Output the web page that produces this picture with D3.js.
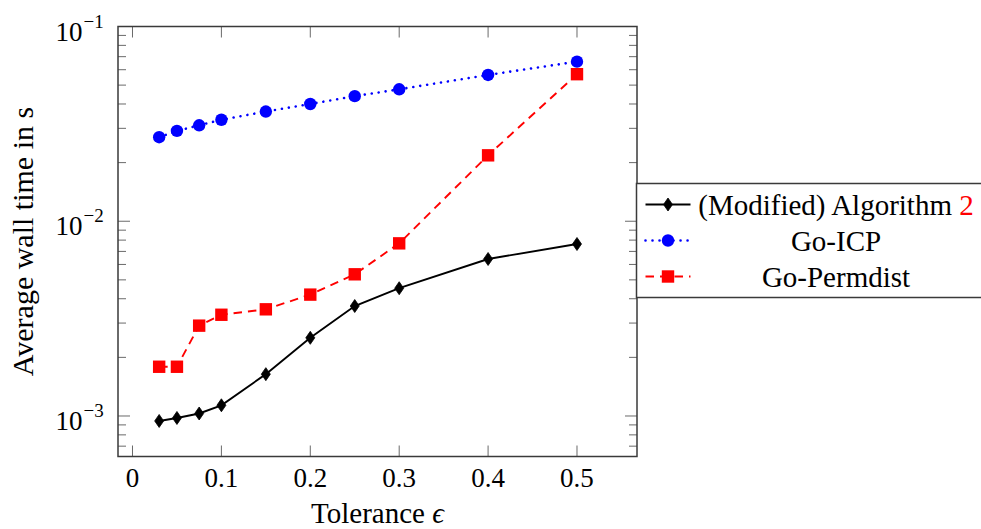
<!DOCTYPE html>
<html>
<head>
<meta charset="utf-8">
<script src="https://cdn.jsdelivr.net/npm/d3@7"></script>
<style>
  body { margin: 0; background: #fff; }
  text { font-family: "Liberation Serif", "DejaVu Serif", serif; fill: #000; }
</style>
</head>
<body>
<svg id="chart"></svg>
<script>
const WIDTH = 981;
const HEIGHT = 529;

// tolerance values (x)
const tolerance = [0.03, 0.05, 0.075, 0.1, 0.15, 0.2, 0.25, 0.3, 0.4, 0.5];

// average wall time in s
const algoTimes = [0.000943, 0.000977, 0.00103, 0.001135, 0.00164, 0.00252, 0.00367, 0.00453, 0.0064, 0.00764];
const icpTimes = [0.0270, 0.0291, 0.0311, 0.0332, 0.0366, 0.0400, 0.0439, 0.0476, 0.0564, 0.0660];
const permdistTimes = [0.00179, 0.00179, 0.00291, 0.00331, 0.00353, 0.00420, 0.00534, 0.0077, 0.0218, 0.0569];

const xTicks = [0, 0.1, 0.2, 0.3, 0.4, 0.5];
const yTicks = [1e-3, 1e-2, 1e-1];
const yTickExp = ["−3", "−2", "−1"];

const legendNames = ["(Modified) Algorithm ", "Go-ICP", "Go-Permdist"];

const plotLeft = 118, plotRight = 637, plotTop = 26.5, plotBottom = 456.5;

let svg = d3.select("#chart")
  .attr("width", WIDTH)
  .attr("height", HEIGHT);

let x = d3.scaleLinear()
  .domain([-0.0163, 0.5675])
  .range([plotLeft, plotRight]);

let y = d3.scaleLog()
  .domain([10 ** -3.208, 0.1])
  .range([plotBottom, plotTop]);

// minor ticks for the log axis
let minorTicks = [];
[1e-4, 1e-3, 1e-2].forEach((dec) => {
  for (let k = 2; k <= 9; k++) {
    let v = k * dec;
    if (v >= y.domain()[0] && v <= y.domain()[1]) minorTicks.push(v);
  }
});

let ticks = svg.append("g").attr("class", "ticks")
  .style("stroke", "#6a6a6a")
  .style("stroke-width", 1);

// x ticks bottom and top
ticks.append("g").selectAll("line")
  .data(xTicks)
.enter().append("line")
  .attr("x1", d => x(d)).attr("x2", d => x(d))
  .attr("y1", plotBottom).attr("y2", plotBottom - 11);

ticks.append("g").selectAll("line")
  .data(xTicks)
.enter().append("line")
  .attr("x1", d => x(d)).attr("x2", d => x(d))
  .attr("y1", plotTop).attr("y2", plotTop + 11);

// y ticks left and right
[[plotLeft, 1], [plotRight, -1]].forEach(([x0, dir]) => {
  ticks.append("g").selectAll("line")
    .data(yTicks)
  .enter().append("line")
    .attr("x1", x0).attr("x2", x0 + dir * 12)
    .attr("y1", d => y(d)).attr("y2", d => y(d));

  ticks.append("g").selectAll("line")
    .data(minorTicks)
  .enter().append("line")
    .attr("x1", x0).attr("x2", x0 + dir * 8)
    .attr("y1", d => y(d)).attr("y2", d => y(d));
});

// frame
svg.append("rect")
  .attr("x", plotLeft).attr("y", plotTop)
  .attr("width", plotRight - plotLeft).attr("height", plotBottom - plotTop)
  .style("fill", "none")
  .style("stroke", "#3a3a3a")
  .style("stroke-width", 1.5);

// tick labels
svg.append("g").selectAll("text")
  .data(xTicks)
.enter().append("text")
  .attr("x", d => x(d))
  .attr("y", 486.5)
  .attr("text-anchor", "middle")
  .style("font-size", "27px")
  .text(d => d === 0 ? "0" : d3.format(".1f")(d));

svg.append("g").selectAll("text")
  .data(yTicks)
.enter().append("text")
  .attr("x", 82.5)
  .attr("y", d => y(d) + 14)
  .attr("text-anchor", "end")
  .style("font-size", "27px")
  .text("10");

svg.append("g").selectAll("text")
  .data(yTicks)
.enter().append("text")
  .attr("x", 83.5)
  .attr("y", d => y(d) + 1)
  .style("font-size", "19px")
  .text((d, i) => yTickExp[i]);

// axis labels
svg.append("text")
  .attr("x", (plotLeft + plotRight) / 2)
  .attr("y", 523)
  .attr("text-anchor", "middle")
  .style("font-size", "29px")
  .html("Tolerance <tspan font-style='italic'>ϵ</tspan>");

svg.append("text")
  .attr("transform", "translate(33," + ((plotTop + plotBottom) / 2) + ")rotate(-90)")
  .attr("text-anchor", "middle")
  .style("font-size", "30px")
  .text("Average wall time in s");

// series
let series = [
  { name: "algo", values: algoTimes, color: "#000", dash: null, marker: "diamond" },
  { name: "icp", values: icpTimes, color: "#0000ff", dash: "0.01,7", marker: "circle" },
  { name: "permdist", values: permdistTimes, color: "#ff0000", dash: "8.5,6", marker: "square" }
];

let line = d3.line()
  .x(d => x(d[0]))
  .y(d => y(d[1]));

function drawMarker(g, type, color) {
  if (type === "circle") {
    g.append("circle").attr("r", 6.2).style("fill", color);
  } else if (type === "square") {
    g.append("rect").attr("x", -6.2).attr("y", -6.2)
      .attr("width", 12.4).attr("height", 12.4).style("fill", color);
  } else {
    g.append("path").attr("d", "M0,-6.5L4.5,0L0,6.5L-4.5,0Z")
      .style("fill", color).style("stroke", color).style("stroke-width", 0.8);
  }
}

let plot = svg.append("g").attr("class", "plot");

// permdist drawn last so its marker sits above the icp circle at 0.5
[series[1], series[0], series[2]].forEach((s) => {
  let pts = tolerance.map((t, i) => [t, s.values[i]]);
  plot.append("path")
    .datum(pts)
    .attr("d", line)
    .style("fill", "none")
    .style("stroke", s.color)
    .style("stroke-width", s.marker === "circle" ? 2.6 : 1.9)
    .style("stroke-linecap", s.marker === "circle" ? "round" : "butt")
    .style("stroke-dasharray", s.dash);

  pts.forEach((p) => {
    let g = plot.append("g").attr("transform", "translate(" + x(p[0]) + "," + y(p[1]) + ")");
    drawMarker(g, s.marker, s.color);
  });
});

// legend
let legend = svg.append("g").attr("class", "legend");
legend.append("rect")
  .attr("x", 636.5).attr("y", 183.5)
  .attr("width", 360).attr("height", 114)
  .style("fill", "#fff")
  .style("stroke", "#3a3a3a")
  .style("stroke-width", 1.5);

let rowY = [204.5, 240.5, 276.5];
series.forEach((s, i) => {
  legend.append("line")
    .attr("x1", 645.5).attr("x2", 690.5)
    .attr("y1", rowY[i]).attr("y2", rowY[i])
    .style("stroke", s.color)
    .style("stroke-width", s.marker === "circle" ? 2.6 : 1.9)
    .style("stroke-linecap", s.marker === "circle" ? "round" : "butt")
    .style("stroke-dasharray", s.dash);
  let g = legend.append("g").attr("transform", "translate(668," + rowY[i] + ")");
  drawMarker(g, s.marker, s.color);

  let t = legend.append("text")
    .attr("x", 836)
    .attr("y", rowY[i] + 10)
    .attr("text-anchor", "middle")
    .style("font-size", "29px")
    .text(legendNames[i]);
  if (i === 0) {
    t.append("tspan").style("fill", "#ff0000").text("2");
  }
});
</script>
</body>
</html>
